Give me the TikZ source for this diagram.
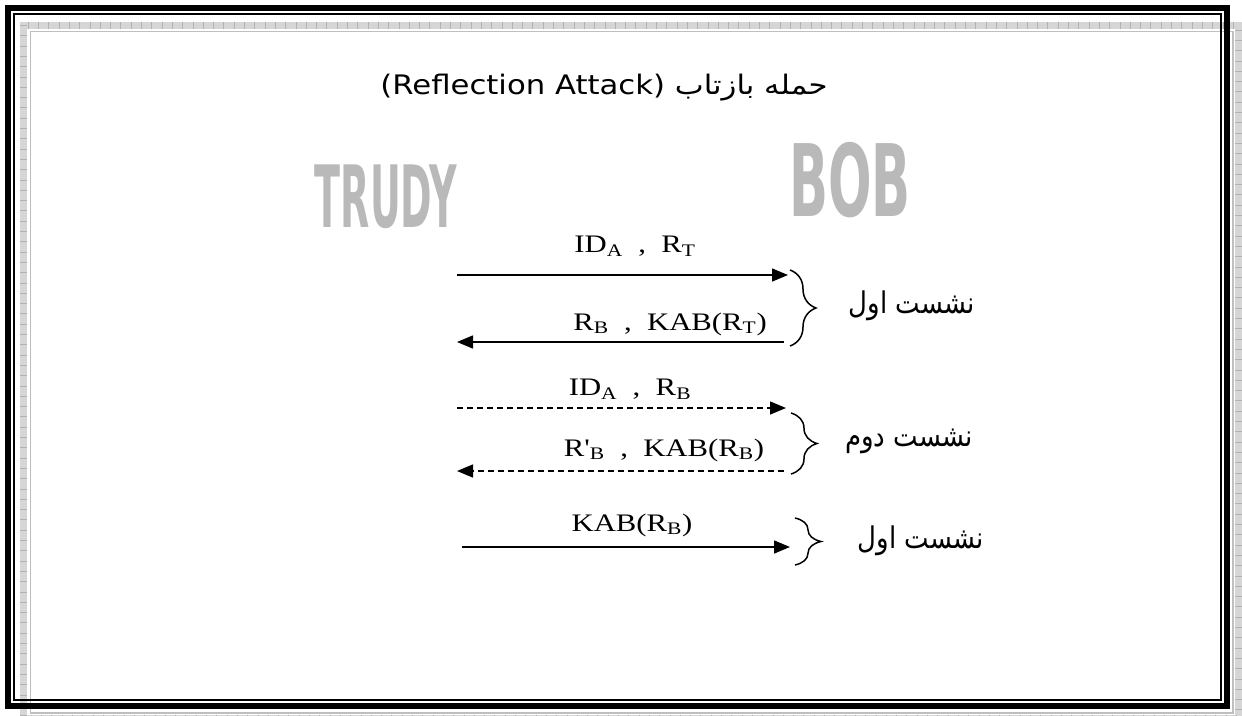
\documentclass[tikz,border=0pt]{standalone}
\usepackage{fontspec}
\setmainfont{Liberation Serif}
\newfontfamily\dejavu{DejaVu Sans}
\newfontfamily\arabicfont[Script=Arabic]{DejaVu Sans}
\TeXXeTstate=1
\usetikzlibrary{arrows.meta,decorations.pathreplacing}
\tikzset{
  msg/.style={line width=1.5pt, -{Triangle[length=16pt,width=13pt]}},
  dmsg/.style={msg, dash pattern=on 6pt off 4pt},
  lbl/.style={inner sep=0pt, anchor=center, xscale=1.28, yscale=1.05, font=\fontsize{24}{24}\selectfont},
  fa/.style={inner sep=0pt, anchor=center, xscale=1.0, yscale=1.15, font=\arabicfont\fontsize{26}{26}\selectfont},
  sess/.style={line width=1.5pt, decorate, decoration={brace, amplitude=26pt}},
  art/.style={inner sep=0pt, text=gray!55, font=\dejavu\bfseries\fontsize{40}{40}\selectfont},
}
\begin{document}
\begin{tikzpicture}[x=1pt,y=1pt]
\useasboundingbox (0,0) rectangle (1242,-715);
% gray hatched frame
\draw[line width=7pt, draw=gray!32] (23.5,-25) rectangle (1238.5,-718);
\draw[line width=7pt, draw=gray!60, dash pattern=on 0.8pt off 9.5pt] (23.5,-25) rectangle (1238.5,-718);
\draw[line width=1.5pt, draw=gray!50] (30.5,-31.5) rectangle (1233,-713);
% black frame
\draw[line width=6.5pt] (8,-8) rectangle (1227,-706);
\draw[line width=2pt] (14,-14) rectangle (1221,-700);
% title
\node[inner sep=0pt, xscale=1.28, yscale=1.12] (title) at (604,-88) {\dejavu\fontsize{24}{24}\selectfont (Reflection Attack) \arabicfont\beginR حمله بازتاب\endR};
% word art
\node[art, xscale=0.95, yscale=2.15] (trudy) at (386,-197) {TRUDY};
\node[art, xscale=1.28, yscale=2.5] (bob) at (850,-180) {BOB};
% session 1
\coordinate (a1s) at (457,-275); \coordinate (a1e) at (788,-275);
\draw[msg] (a1s) -- (a1e);
\node[lbl] (l1) at (635,-246) {ID\textsubscript{A}~~,~~R\textsubscript{T}};
\coordinate (a2s) at (784,-342); \coordinate (a2e) at (457,-342);
\draw[msg] (a2s) -- (a2e);
\node[lbl] (l2) at (670,-324) {R\textsubscript{B}~~,~~KAB(R\textsubscript{T})};
\coordinate (b1t) at (790,-270); \coordinate (b1b) at (790,-346);
\draw[sess] (b1t) -- (b1b);
\node[fa] (s1) at (912,-306) {\beginR نشست اول\endR};
% session 2
\coordinate (a3s) at (457,-408); \coordinate (a3e) at (786,-408);
\draw[dmsg] (a3s) -- (a3e);
\node[lbl] (l3) at (630,-389) {ID\textsubscript{A}~~,~~R\textsubscript{B}};
\coordinate (a4s) at (784,-471); \coordinate (a4e) at (457,-471);
\draw[dmsg] (a4s) -- (a4e);
\node[lbl] (l4) at (664,-450) {R\textquotesingle\textsubscript{B}~~,~~KAB(R\textsubscript{B})};
\coordinate (b2t) at (791,-413); \coordinate (b2b) at (791,-474);
\draw[sess] (b2t) -- (b2b);
\node[fa] (s2) at (909,-441) {\beginR نشست دوم\endR};
% session 1 again
\coordinate (a5s) at (462,-547); \coordinate (a5e) at (790,-547);
\draw[msg] (a5s) -- (a5e);
\node[lbl] (l5) at (632,-525) {KAB(R\textsubscript{B})};
\coordinate (b3t) at (795,-518); \coordinate (b3b) at (795,-565);
\draw[sess] (b3t) -- (b3b);
\node[fa] (s3) at (921,-541) {\beginR نشست اول\endR};
\end{tikzpicture}
\end{document}
